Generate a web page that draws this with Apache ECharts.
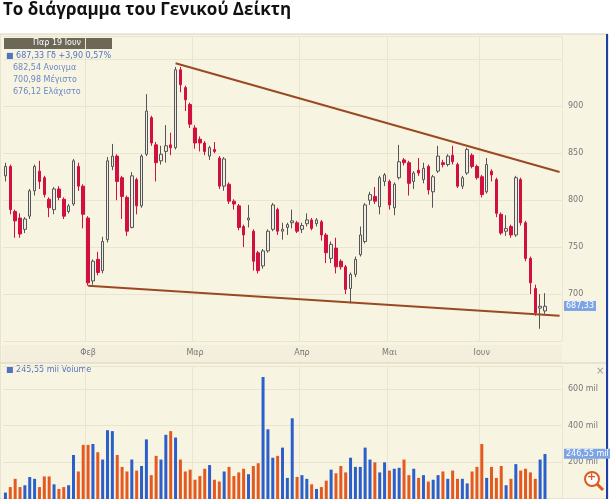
<!DOCTYPE html>
<html><head><meta charset="utf-8">
<script src="https://cdn.jsdelivr.net/npm/echarts@6/dist/echarts.min.js"></script>
<style>html,body{margin:0;padding:0;background:#fff}#c{width:610px;height:499px}</style>
</head><body><div id="c"></div>
<script>
// [open, close, low, high]
const ohlc = [
[826,836,820,840],[836,790,785,838],[788,778,760,790],[781,764,760,786],[769,780,765,782],
[783,810,780,812],[810,836,805,838],[831,820,812,842],[824,806,803,826],[801,792,782,803],
[790,812,785,814],[812,803,800,815],[801,783,780,803],[788,794,786,796],[796,842,794,844],
[836,815,810,840],[815,785,770,817],[781,712,709,783],[714,735,710,737],[737,723,720,745],
[725,756,722,761],[758,842,755,846],[836,847,832,860],[847,820,800,849],[824,804,780,826],
[803,767,762,805],[771,826,770,830],[822,794,785,824],[794,847,792,849],[849,895,847,913],
[888,861,858,890],[859,840,820,862],[842,849,838,858],[852,858,840,880],[859,856,848,872],
[856,939,854,942],[939,923,915,942],[920,907,895,922],[902,881,877,904],[877,861,855,880],
[865,861,852,868],[861,852,848,863],[847,856,843,858],[854,852,850,862],[845,815,812,847],
[815,844,810,846],[817,799,796,819],[799,796,790,801],[794,771,768,796],[772,763,750,774],
[779,781,771,795],[767,735,725,769],[744,725,722,746],[730,746,727,748],[746,767,744,769],
[769,795,767,797],[790,767,763,792],[767,769,758,776],[771,774,763,776],[776,778,770,790],
[776,767,765,778],[769,773,765,776],[775,779,772,786],[779,770,768,781],[775,779,772,781],
[777,763,757,779],[763,744,733,765],[738,753,733,756],[749,729,722,760],[735,729,726,737],
[729,705,700,731],[706,721,690,723],[721,737,718,740],[742,763,740,772],[756,795,754,797],
[800,806,795,809],[804,799,796,814],[793,824,785,826],[820,827,815,829],[820,795,790,822],
[792,817,784,819],[824,841,822,859],[843,840,837,845],[840,818,805,842],[820,829,812,831],
[832,829,826,845],[822,834,818,840],[836,811,806,838],[809,825,792,827],[831,847,829,858],
[840,838,835,843],[838,847,836,849],[848,841,838,858],[838,815,813,840],[815,824,812,826],
[829,854,827,856],[848,836,834,850],[836,824,822,838],[825,806,803,827],[809,838,807,845],
[831,827,820,833],[822,786,782,824],[785,765,763,787],[767,770,762,784],[772,763,760,774],
[763,824,761,826],[822,776,773,824],[776,738,735,778],[738,712,700,740],[706,680,677,710],
[685,687,663,700],[682,687,679,701]
];
const volume = [
35,65,110,65,75,120,110,65,123,123,
80,55,65,75,240,150,295,295,300,255,
215,375,370,240,175,150,215,155,180,325,
130,235,215,350,370,335,215,150,160,105,
125,165,185,105,95,150,175,125,145,165,
135,180,195,665,380,225,235,280,115,440,
120,130,110,80,55,65,100,160,140,180,145,
225,175,175,280,215,200,145,200,155,165,
170,215,130,165,115,130,95,105,130,150,
110,155,110,110,85,150,175,300,115,175,
115,180,75,110,190,155,165,145,110,215,245
];
const monthLabels = {17:'Φεβ', 39:'Μαρ', 61:'Απρ', 79:'Μαι', 98:'Ιουν'};
const extraSlots = 3;
const categories = [];
for (let i = 0; i < ohlc.length + extraSlots; i++) categories.push(String(i));
const lastIdx = categories.length - 1;
const upperLine = [[35, 946], [lastIdx, 830]];
const lowerLine = [[17, 709], [lastIdx, 677]];
const priceTicks = [700, 750, 800, 850, 900];
const volTicks = [200, 400, 600];
const lastClose = 687.33, lastVol = 246.55;

const isMonth = (i) => monthLabels[i] !== undefined;
const chart = echarts.init(document.getElementById('c'));
const gridColor = '#ebe5cf';
const tagLabel = (txt) => ({show:true, position:'end', formatter:txt, backgroundColor:'#7da5e6', color:'#fff', fontSize:8, padding:[1,2], distance:2});
chart.setOption({
  animation: false,
  textStyle: {fontFamily: 'DejaVu Sans'},
  graphic: [
    {type:'rect', shape:{x:0,y:34,width:608,height:465}, style:{fill:'#f8f4e2', stroke:'#d8d2bf'}, z:-10},
    {type:'rect', shape:{x:2,y:345,width:560,height:18}, style:{fill:'#f4efdc'}, z:-9},
    {type:'line', shape:{x1:0,y1:363,x2:608,y2:363}, style:{stroke:'#d8d2bf'}},
    {type:'line', shape:{x1:607,y1:34,x2:607,y2:499}, style:{stroke:'#1c3fa8', lineWidth:2}},
    {type:'text', left:3, top:2, style:{text:'Το διάγραμμα του Γενικού Δείκτη', font:'bold 17px "Open Sans"', fill:'#111'}},
    {type:'rect', shape:{x:4,y:38,width:108,height:11}, style:{fill:'#6c6757'}},
    {type:'text', left:33, top:39, style:{text:'Παρ 19 Ιουν', font:'8px "DejaVu Sans"', fill:'#fff'}},
    {type:'text', left:6, top:52, style:{text:'■ 687,33 Γδ +3,90 0,57%', font:'8px "DejaVu Sans"', fill:'#4f74c2'}},
    {type:'text', left:13, top:64, style:{text:'682,54 Ανοιγμα', font:'8px "DejaVu Sans"', fill:'#6a88c8'}},
    {type:'text', left:13, top:76, style:{text:'700,98 Μέγιστο', font:'8px "DejaVu Sans"', fill:'#6a88c8'}},
    {type:'text', left:13, top:88, style:{text:'676,12 Ελάχιστο', font:'8px "DejaVu Sans"', fill:'#6a88c8'}},
    {type:'text', left:6, top:366, style:{text:'■ 245,55 mil Volume', font:'8px "DejaVu Sans"', fill:'#4f74c2'}},
    {type:'text', left:596, top:366, style:{text:'×', font:'10px "DejaVu Sans"', fill:'#999'}},
    {type:'circle', shape:{cx:592,cy:479,r:7}, style:{fill:'#fff', stroke:'#e0581e', lineWidth:2}},
    {type:'line', shape:{x1:597,y1:484,x2:603,y2:490}, style:{stroke:'#e0581e', lineWidth:3}},
    {type:'text', left:587, top:472, style:{text:'+', font:'bold 11px "DejaVu Sans"', fill:'#e0581e'}}
  ],
  grid: [
    {left:3, right:48, top:36, bottom:158},
    {left:3, right:48, top:366, bottom:0}
  ],
  xAxis: [
    {type:'category', gridIndex:0, data:categories, boundaryGap:true,
     axisLine:{show:false}, axisTick:{show:false},
     axisLabel:{interval:(i)=>isMonth(i), formatter:(v,i)=>monthLabels[i]||'', fontSize:8, color:'#777', margin:8},
     splitLine:{show:true, interval:(i)=>isMonth(i), lineStyle:{color:gridColor}}},
    {type:'category', gridIndex:1, data:categories, boundaryGap:true,
     axisLine:{show:false}, axisTick:{show:false}, axisLabel:{show:false},
     splitLine:{show:true, interval:(i)=>isMonth(i), lineStyle:{color:gridColor}}}
  ],
  yAxis: [
    {type:'value', gridIndex:0, position:'right', min:650, max:975, interval:50,
     axisLine:{show:false}, axisTick:{show:false},
     axisLabel:{fontSize:8, color:'#777', margin:6, formatter:(v)=>priceTicks.includes(v)?String(v):''},
     splitLine:{lineStyle:{color:gridColor}}},
    {type:'value', gridIndex:1, position:'right', min:0, max:725, interval:200,
     axisLine:{show:false}, axisTick:{show:false},
     axisLabel:{fontSize:8, color:'#777', margin:6, formatter:(v)=>volTicks.includes(v)?v+' mil':''},
     splitLine:{lineStyle:{color:gridColor}}}
  ],
  series: [
    {type:'candlestick', xAxisIndex:0, yAxisIndex:0, data:ohlc, barWidth:3,
     itemStyle:{color:'#efeee6', color0:'#d21040', borderColor:'#555', borderColor0:'#d21040', borderWidth:1},
     markLine:{symbol:'none', silent:true, lineStyle:{color:'#9a4a22', width:2, type:'solid'}, label:{show:false},
       data:[
         [{coord:upperLine[0]}, {coord:upperLine[1]}],
         [{coord:lowerLine[0]}, {coord:lowerLine[1]}],
         {yAxis:lastClose, lineStyle:{color:'rgba(0,0,0,0)', width:1}, label:tagLabel('687,33')}
       ]}},
    {type:'bar', xAxisIndex:1, yAxisIndex:1, barWidth:3,
     data: volume.map((v,i)=>({value:v, itemStyle:{color: ohlc[i][1] >= ohlc[i][0] ? '#2b5fcb' : '#e4591f'}})),
     markLine:{symbol:'none', silent:true, data:[{yAxis:lastVol, lineStyle:{color:'rgba(0,0,0,0)', width:1}, label:tagLabel('246,55 mil')}]}}
  ]
});
</script></body></html>
